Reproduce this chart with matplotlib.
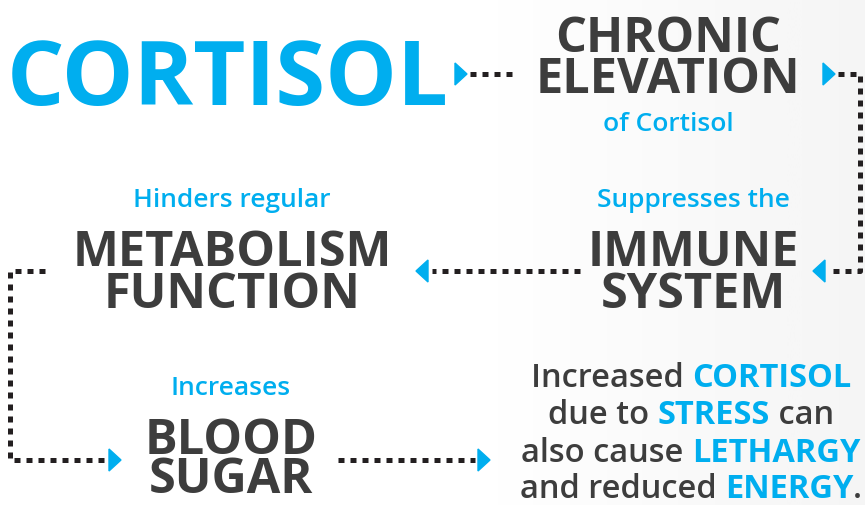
import numpy as np
import matplotlib.pyplot as plt
from matplotlib.patches import Polygon
from matplotlib.font_manager import FontProperties

BLUE = '#00aeef'
DARK = '#3d3d3d'
DOT = '#231f20'

title_word = 'CORTISOL'
# (small blue label, big dark lines, center x, label baseline, first big baseline, line gap)
steps = [
    ('', ['CHRONIC', 'ELEVATION'], 668, None, 52, 41),
    ('Hinders regular', ['METABOLISM', 'FUNCTION'], 232, 207, 266, 42),
    ('Suppresses the', ['IMMUNE', 'SYSTEM'], 693, 207, 266, 42),
    ('Increases', ['BLOOD', 'SUGAR'], 231, 395, 454, 39),
]
note_lines = [
    [('Increased ', DARK), ('CORTISOL', BLUE)],
    [('due to ', DARK), ('STRESS', BLUE), (' can', DARK)],
    [('also cause ', DARK), ('LETHARGY', BLUE)],
    [('and reduced ', DARK), ('ENERGY', BLUE), ('.', DARK)],
]
note_baselines = [387, 424, 462, 498]

plt.rcParams['font.family'] = ['Open Sans', 'DejaVu Sans']

fig = plt.figure(figsize=(8.65, 5.06), dpi=100)
ax = fig.add_axes([0, 0, 1, 1])
ax.set_xlim(0, 865)
ax.set_ylim(506, 0)
ax.axis('off')

# faint background on the right
grad = np.linspace(0, 1, 200)[None, :]
ax.imshow(grad, extent=[480, 865, 506, 0], cmap='Greys', vmin=0, vmax=12,
          aspect='auto', zorder=0)

fig.canvas.draw()
r = fig.canvas.get_renderer()
scale = 865 / fig.bbox.width

big_fp = FontProperties(family=['Open Sans', 'DejaVu Sans'], weight='bold', size=35)
lp_w, lp_h, lp_d = r.get_text_width_height_descent('lp', big_fp, ismath=False)

ax.text(228, 105, title_word, color=BLUE, fontsize=65, fontweight='bold',
        ha='center', va='baseline')

for label, lines, cx, lab_y, y0, gap in steps:
    if label:
        ax.text(cx, lab_y, label, color=BLUE, fontsize=19, fontweight='semibold',
                ha='center', va='baseline')
    ls = (gap / scale - lp_d) / (lp_h - lp_d)
    # baseline alignment of a multi-line text uses its last line
    ax.text(cx, y0 + gap * (len(lines) - 1), '\n'.join(lines), color=DARK,
            fontproperties=big_fp, ha='center', va='baseline',
            multialignment='center', linespacing=ls)
ax.text(668, 131, 'of Cortisol', color=BLUE, fontsize=19, fontweight='semibold',
        ha='center', va='baseline')

# dotted connectors
def dots(xs, ys):
    ax.plot(xs, ys, color=DOT, lw=3.6, dashes=(1.2, 1.2), solid_capstyle='butt',
            dash_capstyle='butt', zorder=2)

def tri(x, y, d):
    ax.add_patch(Polygon([(x, y - 11), (x, y + 11), (x + 12 * d, y)],
                         closed=True, color=BLUE, zorder=3))

dots([470, 515], [75, 75]); tri(455, 75, 1)
dots([838, 860, 860, 828], [75, 75, 272, 272]); tri(823, 75, 1); tri(825, 272, -1)
dots([580, 432], [272, 272]); tri(428, 272, -1)
dots([45, 10, 10, 105], [272, 272, 461, 461]); tri(109, 461, 1)
dots([338, 475], [461, 461]); tri(478, 461, 1)

# mixed colour paragraph
for parts, yb in zip(note_lines, note_baselines):
    texts = []
    for s, c in parts:
        t = ax.text(0, yb, s, color=c, fontsize=23.5,
                    fontweight='bold' if c == BLUE else 'semibold',
                    ha='left', va='baseline')
        texts.append(t)
    widths = [t.get_window_extent(r).width * scale for t in texts]
    x = 691 - sum(widths) / 2
    for t, w in zip(texts, widths):
        t.set_x(x)
        x += w

fig.savefig('out.png', dpi=100, facecolor='white')
